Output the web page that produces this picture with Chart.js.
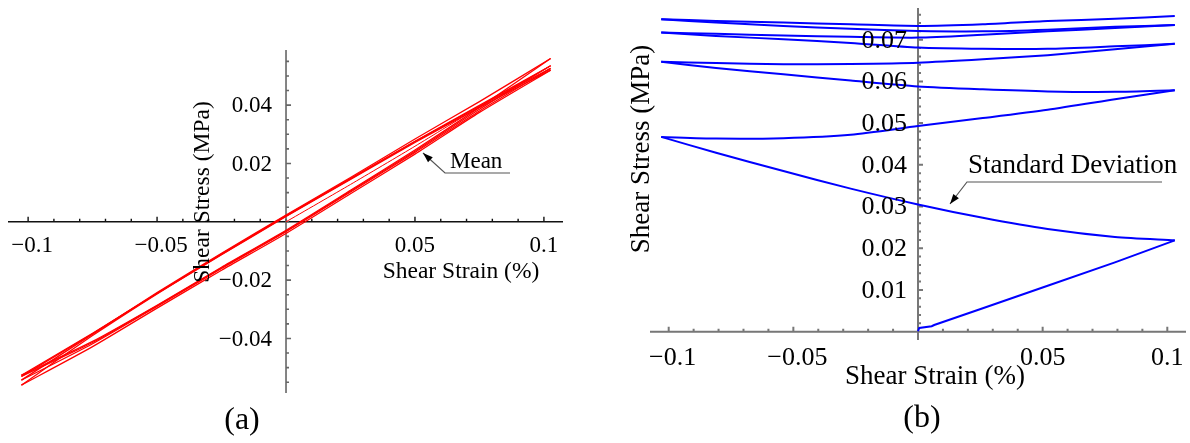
<!DOCTYPE html>
<html>
<head>
<meta charset="utf-8">
<script src="https://cdn.jsdelivr.net/npm/chart.js@4.4.0/dist/chart.umd.min.js"></script>
<style>
body{margin:0;background:#fff;width:1190px;height:443px;overflow:hidden;position:relative}
canvas{position:absolute;top:0}
#chartA{left:0}
#chartB{left:600px}
</style>
</head>
<body>
<canvas id="chartA" width="600" height="443"></canvas>
<canvas id="chartB" width="590" height="443"></canvas>
<script>
// ---- (a) mean loops ----
const strainFirst = [0, 0.025, 0.05, 0.075, 0.1026]
const strainDown = [0.1026, 0.075, 0.05, 0.025, 0, -0.025, -0.05, -0.075, -0.1026]
const strainUp = [-0.1026, -0.075, -0.05, -0.025, 0, 0.025, 0.05, 0.075, 0.1026]

const meanFirst = [0, 0.0128, 0.0259, 0.0394, 0.0535]
const meanDown1 = [0.0535, 0.0399, 0.0276, 0.0148, 0.0021, -0.0110, -0.0245, -0.0382, -0.0526]
const meanUp1 = [-0.0526, -0.0410, -0.0286, -0.0156, -0.0029, 0.0108, 0.0246, 0.0392, 0.0560]
const meanDown2 = [0.0560, 0.0412, 0.0284, 0.0152, 0.0023, -0.0108, -0.0243, -0.0385, -0.0543]
const meanUp2 = [-0.0543, -0.0418, -0.0290, -0.0160, -0.0034, 0.0102, 0.0238, 0.0380, 0.0526]
const meanDown3 = [0.0526, 0.0396, 0.0275, 0.0147, 0.0019, -0.0112, -0.0247, -0.0390, -0.0560]
const meanUp3 = [-0.0560, -0.0428, -0.0296, -0.0166, -0.0040, 0.0096, 0.0232, 0.0375, 0.0520]
const meanDown4 = [0.0520, 0.0392, 0.0272, 0.0145, 0.0018, -0.0113, -0.0246, -0.0384, -0.0530]
const meanUp4 = [-0.0530, -0.0414, -0.0288, -0.0158, -0.0032, 0.0105, 0.0242, 0.0386, 0.0535]

const ticksXA = [-0.1, -0.05, 0.05, 0.1]
const labelsXA = ["\u22120.1", "\u22120.05", "0.05", "0.1"]
const ticksYA = [-0.04, -0.02, 0.02, 0.04]
const labelsYA = ["\u22120.04", "\u22120.02", "0.02", "0.04"]

// ---- (b) standard deviation ----
const strainStartB = [0, 0.0005, 0.0055, 0.0065, 0.026, 0.052, 0.079, 0.103]
const strainLeftB = [0.103, 0.079, 0.052, 0.026, 0, -0.027, -0.054, -0.081, -0.103]
const strainRightB = [-0.103, -0.081, -0.054, -0.027, 0, 0.026, 0.052, 0.079, 0.103]

const sdStart = [0.0001, 0.0009, 0.0013, 0.0016, 0.0056, 0.0110, 0.0166, 0.0219]
const sdDown1 = [0.0219, 0.0227, 0.0246, 0.0273, 0.0305, 0.0343, 0.0385, 0.0429, 0.0467]
const sdUp1 = [0.0467, 0.0463, 0.0464, 0.0472, 0.0493, 0.0512, 0.0532, 0.0557, 0.0579]
const sdDown2 = [0.0579, 0.0575, 0.0576, 0.0581, 0.0588, 0.0602, 0.0617, 0.0632, 0.0647]
const sdUp2 = [0.0647, 0.0644, 0.0641, 0.0642, 0.0645, 0.0653, 0.0663, 0.0677, 0.0690]
const sdDown3 = [0.0690, 0.0684, 0.0678, 0.0678, 0.0681, 0.0692, 0.0701, 0.0709, 0.0717]
const sdUp3 = [0.0717, 0.0714, 0.0710, 0.0707, 0.0705, 0.0712, 0.0720, 0.0728, 0.0735]
const sdDown4 = [0.0735, 0.0731, 0.0724, 0.0720, 0.0721, 0.0726, 0.0733, 0.0741, 0.0749]
const sdUp4 = [0.0749, 0.0745, 0.0741, 0.0737, 0.0733, 0.0737, 0.0745, 0.0750, 0.0757]

const ticksXB = [-0.1, -0.05, 0.05, 0.1]
const labelsXB = ["\u22120.1", "\u22120.05", "0.05", "0.1"]
const ticksYB = [0.01, 0.02, 0.03, 0.04, 0.05, 0.06, 0.07]
const labelsYB = ["0.01", "0.02", "0.03", "0.04", "0.05", "0.06", "0.07"]

function pts(xs, ys){
    return xs.map((x, i) => ({x: x, y: ys[i]}))
}

function branch(xs, ys, color, width, tension){
    return {
        data: pts(xs, ys),
        showLine: true,
        borderColor: color,
        borderWidth: width,
        pointRadius: 0,
        tension: tension,
        fill: false
    }
}

// draws Mathematica-like axes crossing at the origin
function axesPlugin(o){
    return {
        id: 'axes',
        beforeDatasetsDraw(chart){
            const ctx = chart.ctx
            const xs = chart.scales.x, ys = chart.scales.y
            const a = chart.chartArea
            const x0 = xs.getPixelForValue(0), y0 = ys.getPixelForValue(0)
            ctx.save()
            // x axis
            ctx.strokeStyle = o.xColor
            ctx.lineWidth = o.xWidth
            ctx.beginPath()
            ctx.moveTo(a.left, y0); ctx.lineTo(a.right, y0)
            for (let v = o.minorX[0]; v <= o.minorX[1] + 1e-9; v += o.minorX[2]){
                const px = xs.getPixelForValue(v)
                const major = o.ticksX.some(t => Math.abs(t - v) < 1e-6)
                ctx.moveTo(px, y0); ctx.lineTo(px, y0 - (major ? 5 : 3))
            }
            ctx.stroke()
            // y axis
            ctx.strokeStyle = o.yColor
            ctx.lineWidth = o.yWidth
            ctx.beginPath()
            ctx.moveTo(x0, a.top); ctx.lineTo(x0, a.bottom)
            for (let v = o.minorY[0]; v <= o.minorY[1] + 1e-9; v += o.minorY[2]){
                const py = ys.getPixelForValue(v)
                const major = o.ticksY.some(t => Math.abs(t - v) < 1e-6)
                ctx.moveTo(x0, py); ctx.lineTo(x0 + (major ? 5 : 3), py)
            }
            ctx.stroke()
            ctx.restore()
        },
        afterDraw(chart){
            const ctx = chart.ctx
            const xs = chart.scales.x, ys = chart.scales.y
            const x0 = xs.getPixelForValue(0), y0 = ys.getPixelForValue(0)
            ctx.save()
            ctx.fillStyle = '#000'
            ctx.font = o.tickFont
            ctx.textAlign = 'center'
            ctx.textBaseline = 'top'
            o.ticksX.forEach((t, i) => {
                ctx.fillText(o.labelsX[i], xs.getPixelForValue(t) + (t < 0 ? 4 : 0), y0 + o.xLabelGap)
            })
            ctx.textAlign = 'right'
            ctx.textBaseline = 'middle'
            o.ticksY.forEach((t, i) => {
                ctx.fillText(o.labelsY[i], x0 - o.yLabelGap, ys.getPixelForValue(t) + 1)
            })
            // titles
            ctx.font = o.titleFont
            ctx.textAlign = 'center'
            ctx.fillText('Shear Strain (%)', o.xTitle[0], o.xTitle[1])
            ctx.save()
            ctx.translate(o.yTitle[0], o.yTitle[1])
            ctx.rotate(-Math.PI / 2)
            ctx.fillText('Shear Stress (MPa)', 0, 0)
            ctx.restore()
            // annotation with arrow
            const n = o.note
            ctx.font = n.font
            ctx.textAlign = 'left'
            ctx.textBaseline = 'alphabetic'
            ctx.fillText(n.text, n.textX, n.textY)
            ctx.strokeStyle = '#555'
            ctx.lineWidth = 1.2
            ctx.beginPath()
            ctx.moveTo(n.lineEnd, n.lineY)
            ctx.lineTo(n.lineStart, n.lineY)
            ctx.lineTo(n.tip[0], n.tip[1])
            ctx.stroke()
            const ang = Math.atan2(n.tip[1] - n.lineY, n.tip[0] - n.lineStart)
            ctx.fillStyle = '#000'
            ctx.beginPath()
            ctx.moveTo(n.tip[0], n.tip[1])
            ctx.lineTo(n.tip[0] - 10 * Math.cos(ang) + 3.5 * Math.sin(ang), n.tip[1] - 10 * Math.sin(ang) - 3.5 * Math.cos(ang))
            ctx.lineTo(n.tip[0] - 10 * Math.cos(ang) - 3.5 * Math.sin(ang), n.tip[1] - 10 * Math.sin(ang) + 3.5 * Math.cos(ang))
            ctx.closePath()
            ctx.fill()
            // panel caption
            ctx.font = o.capFont
            ctx.textAlign = 'center'
            ctx.textBaseline = 'middle'
            ctx.fillText(o.caption, o.capPos[0], o.capPos[1])
            ctx.restore()
        }
    }
}

function baseOptions(xr, yr, pad){
    return {
        responsive: false,
        animation: false,
        layout: {padding: pad},
        plugins: {legend: {display: false}, tooltip: {enabled: false}},
        scales: {
            x: {type: 'linear', min: xr[0], max: xr[1], display: false},
            y: {type: 'linear', min: yr[0], max: yr[1], display: false}
        }
    }
}

const red = '#ff0000'
new Chart(document.getElementById('chartA'), {
    type: 'scatter',
    data: {
        datasets: [
            branch(strainFirst, meanFirst, red, 1, 0.2),
            branch(strainDown, meanDown1, red, 1.3, 0.2),
            branch(strainUp, meanUp1, red, 1.3, 0.2),
            branch(strainDown, meanDown2, red, 1.3, 0.2),
            branch(strainUp, meanUp2, red, 1.3, 0.2),
            branch(strainDown, meanDown3, red, 1.3, 0.2),
            branch(strainUp, meanUp3, red, 1.3, 0.2),
            branch(strainDown, meanDown4, red, 1.3, 0.2),
            branch(strainUp, meanUp4, red, 1.3, 0.2)
        ]
    },
    options: baseOptions([-0.1078, 0.1074], [-0.0587, 0.0589], {left: 8, right: 37, top: 50, bottom: 50}),
    plugins: [axesPlugin({
        xColor: '#111', xWidth: 1.4, yColor: '#666', yWidth: 1.6,
        ticksX: ticksXA, labelsX: labelsXA, ticksY: ticksYA, labelsY: labelsYA,
        minorX: [-0.1, 0.1, 0.01], minorY: [-0.055, 0.055, 0.005],
        tickFont: '23px "Liberation Serif"', titleFont: '23.5px "Liberation Serif"',
        xLabelGap: 13, yLabelGap: 14,
        xTitle: [461, 272], yTitle: [203, 192],
        note: {text: 'Mean', font: '23px "Liberation Serif"', textX: 450, textY: 168,
               lineStart: 445, lineEnd: 510, lineY: 173, tip: [423, 153]},
        capFont: '32px "Liberation Serif"', caption: '(a)', capPos: [242, 421]
    })]
})

const blue = '#0000ff'
new Chart(document.getElementById('chartB'), {
    type: 'scatter',
    data: {
        datasets: [
            branch(strainStartB, sdStart, blue, 2, 0),
            branch(strainLeftB, sdDown1, blue, 2, 0.25),
            branch(strainRightB, sdUp1, blue, 2, 0.25),
            branch(strainLeftB, sdDown2, blue, 2, 0.25),
            branch(strainRightB, sdUp2, blue, 2, 0.25),
            branch(strainLeftB, sdDown3, blue, 2, 0.25),
            branch(strainRightB, sdUp3, blue, 2, 0.25),
            branch(strainLeftB, sdDown4, blue, 2, 0.25),
            branch(strainRightB, sdUp4, blue, 2, 0.25)
        ]
    },
    options: baseOptions([-0.1075, 0.1075], [-0.002, 0.0776], {left: 50, right: 4, top: 8, bottom: 103}),
    plugins: [axesPlugin({
        xColor: '#777', xWidth: 2, yColor: '#777', yWidth: 2,
        ticksX: ticksXB, labelsX: labelsXB, ticksY: ticksYB, labelsY: labelsYB,
        minorX: [-0.1, 0.1, 0.01], minorY: [0.002, 0.076, 0.002],
        tickFont: '26px "Liberation Serif"', titleFont: '27px "Liberation Serif"',
        xLabelGap: 14, yLabelGap: 11,
        xTitle: [335, 377], yTitle: [42, 149],
        note: {text: 'Standard Deviation', font: '27px "Liberation Serif"', textX: 368, textY: 173,
               lineStart: 367, lineEnd: 562, lineY: 182, tip: [350, 204]},
        capFont: '32px "Liberation Serif"', caption: '(b)', capPos: [322, 419]
    })]
})
</script>
</body>
</html>
